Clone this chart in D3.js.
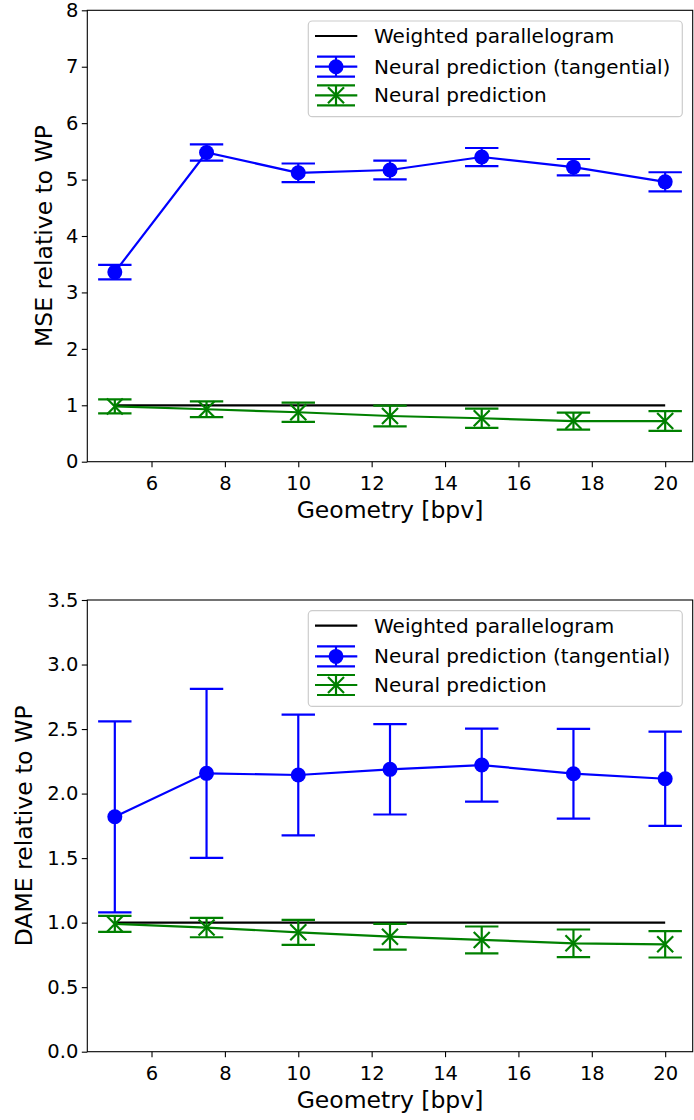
<!DOCTYPE html>
<html>
<head>
<meta charset="utf-8">
<script src="https://cdn.jsdelivr.net/npm/d3@7"></script>
<style>
    body { margin: 0; background: #fff; }
    svg { display: block; font-family: "DejaVu Sans", sans-serif; }
</style>
</head>
<body>
<div id="chart"></div>
<script>
const geometry = [5, 7.5, 10, 12.5, 15, 17.5, 20];
const wpRelative = [1, 1, 1, 1, 1, 1, 1];

// MSE panel
const mseTangential = [3.36, 5.48, 5.12, 5.17, 5.40, 5.22, 4.96];
const mseTangentialErr = [0.13, 0.145, 0.165, 0.165, 0.16, 0.145, 0.17];
const mseNeural = [0.98, 0.93, 0.876, 0.81, 0.77, 0.72, 0.72];
const mseNeuralErr = [0.125, 0.14, 0.17, 0.185, 0.17, 0.15, 0.175];
const mseTicks = [0, 1, 2, 3, 4, 5, 6, 7, 8];

// DAME panel
const dameTangential = [1.82, 2.157, 2.144, 2.188, 2.221, 2.154, 2.115];
const dameTangentialErr = [0.74, 0.655, 0.468, 0.35, 0.283, 0.348, 0.365];
const dameNeural = [0.99, 0.962, 0.925, 0.891, 0.866, 0.84, 0.832];
const dameNeuralErr = [0.062, 0.075, 0.097, 0.10, 0.104, 0.107, 0.102];
const dameTicks = [0, 0.5, 1, 1.5, 2, 2.5, 3, 3.5];

const xTicks = [6, 8, 10, 12, 14, 16, 18, 20];
const legendLabels = ["Weighted parallelogram", "Neural prediction (tangential)", "Neural prediction"];

const W = 694, H = 1120;
const svg = d3.select("#chart").append("svg").attr("width", W).attr("height", H);

const left = 87.3, right = 692.7;
const capHalf = 16.7;

function drawPanel(cfg) {
    const x = d3.scaleLinear().domain([4.25, 20.75]).range([left, right]);
    const y = d3.scaleLinear().domain(cfg.yDomain).range([cfg.bottom, cfg.top]);
    const g = svg.append("g");

    // axes
    const xAxis = g.append("g")
        .attr("transform", `translate(0,${cfg.bottom})`)
        .call(d3.axisBottom(x).tickValues(xTicks).tickSize(5.5).tickPadding(9).tickFormat(d3.format("d")));
    const yAxis = g.append("g")
        .attr("transform", `translate(${left},0)`)
        .call(d3.axisLeft(y).tickValues(cfg.yTicks).tickSize(5.5).tickPadding(3.5).tickFormat(cfg.yFormat));
    [xAxis, yAxis].forEach(a => {
        a.select(".domain").remove();
        a.selectAll("line").attr("stroke", "#000").attr("stroke-width", 1.1);
        a.selectAll("text").attr("fill", "#000").style("font-size", "19.5px").style("font-family", "DejaVu Sans");
    });

    g.append("rect")
        .attr("x", left).attr("y", cfg.top)
        .attr("width", right - left).attr("height", cfg.bottom - cfg.top)
        .attr("fill", "none").attr("stroke", "#000").attr("stroke-width", 1.1);

    const line = d3.line().x(d => x(d.x)).y(d => y(d.y));

    // weighted parallelogram baseline
    g.append("path")
        .datum(geometry.map((v, i) => ({ x: v, y: wpRelative[i] })))
        .attr("d", line)
        .attr("fill", "none").attr("stroke", "#000").attr("stroke-width", 2.2);

    function errorSeries(vals, errs, color, marker) {
        const pts = geometry.map((v, i) => ({ x: v, y: vals[i], e: errs[i] }));
        const s = g.append("g");
        s.append("path").datum(pts).attr("d", line)
            .attr("fill", "none").attr("stroke", color).attr("stroke-width", 2.2);
        s.selectAll("line.bar").data(pts).enter().append("line")
            .attr("class", "bar")
            .attr("x1", d => x(d.x)).attr("x2", d => x(d.x))
            .attr("y1", d => y(d.y - d.e)).attr("y2", d => y(d.y + d.e))
            .attr("stroke", color).attr("stroke-width", 2.2);
        [-1, 1].forEach(sign => {
            s.selectAll("line.cap" + (sign > 0 ? "hi" : "lo")).data(pts).enter().append("line")
                .attr("class", "cap" + (sign > 0 ? "hi" : "lo"))
                .attr("x1", d => x(d.x) - capHalf).attr("x2", d => x(d.x) + capHalf)
                .attr("y1", d => y(d.y + sign * d.e)).attr("y2", d => y(d.y + sign * d.e))
                .attr("stroke", color).attr("stroke-width", 2.2);
        });
        pts.forEach(d => drawMarker(s, x(d.x), y(d.y), color, marker));
    }

    errorSeries(cfg.tangential, cfg.tangentialErr, "#0000ff", "circle");
    errorSeries(cfg.neural, cfg.neuralErr, "#008000", "x");

    // labels
    g.append("text")
        .attr("x", (left + right) / 2).attr("y", cfg.bottom + 56.3)
        .attr("text-anchor", "middle")
        .style("font-size", "23.5px")
        .text("Geometry [bpv]");
    g.append("text")
        .attr("transform", `translate(${cfg.yLabelX},${(cfg.top + cfg.bottom) / 2}) rotate(-90)`)
        .attr("text-anchor", "middle")
        .style("font-size", "23.5px")
        .text(cfg.yLabel);

    drawLegend(g, cfg.top + 10.7);
}

function drawMarker(s, cx, cy, color, marker) {
    if (marker === "circle") {
        s.append("circle").attr("cx", cx).attr("cy", cy).attr("r", 7.5).attr("fill", color);
    } else {
        const r = 8;
        s.append("path")
            .attr("d", `M${cx - r},${cy - r}L${cx + r},${cy + r}M${cx - r},${cy + r}L${cx + r},${cy - r}`)
            .attr("stroke", color).attr("stroke-width", 2.2).attr("fill", "none");
    }
}

function drawLegend(g, top) {
    const lx = 308.3, lw = 374, lh = 95.7;
    g.append("rect")
        .attr("x", lx).attr("y", top).attr("width", lw).attr("height", lh)
        .attr("rx", 4).attr("fill", "#fff").attr("fill-opacity", 0.8)
        .attr("stroke", "#cccccc").attr("stroke-width", 1.2);
    const rows = [top + 15, top + 45.7, top + 74.3];
    const colors = ["#000", "#0000ff", "#008000"];
    const hx1 = 315, hx2 = 357.3, hc = 336;
    rows.forEach((ry, i) => {
        g.append("line").attr("x1", hx1).attr("x2", hx2).attr("y1", ry).attr("y2", ry)
            .attr("stroke", colors[i]).attr("stroke-width", 2.2);
        if (i > 0) {
            g.append("line").attr("x1", hc).attr("x2", hc).attr("y1", ry - 10).attr("y2", ry + 10)
                .attr("stroke", colors[i]).attr("stroke-width", 2.2);
            [-10, 10].forEach(off => {
                g.append("line").attr("x1", hc - 19).attr("x2", hc + 19)
                    .attr("y1", ry + off).attr("y2", ry + off)
                    .attr("stroke", colors[i]).attr("stroke-width", 2.2);
            });
            drawMarker(g, hc, ry, colors[i], i === 1 ? "circle" : "x");
        }
        g.append("text")
            .attr("x", 374).attr("y", ry)
            .attr("dy", "0.35em")
            .style("font-size", "20px")
            .text(legendLabels[i]);
    });
}

drawPanel({
    top: 10.3, bottom: 461.7,
    yDomain: [0, 8], yTicks: mseTicks, yFormat: d3.format("d"),
    tangential: mseTangential, tangentialErr: mseTangentialErr,
    neural: mseNeural, neuralErr: mseNeuralErr,
    yLabel: "MSE relative to WP", yLabelX: 52
});

drawPanel({
    top: 600, bottom: 1051.7,
    yDomain: [0, 3.5], yTicks: dameTicks, yFormat: d3.format(".1f"),
    tangential: dameTangential, tangentialErr: dameTangentialErr,
    neural: dameNeural, neuralErr: dameNeuralErr,
    yLabel: "DAME relative to WP", yLabelX: 31.7
});
</script>
</body>
</html>
